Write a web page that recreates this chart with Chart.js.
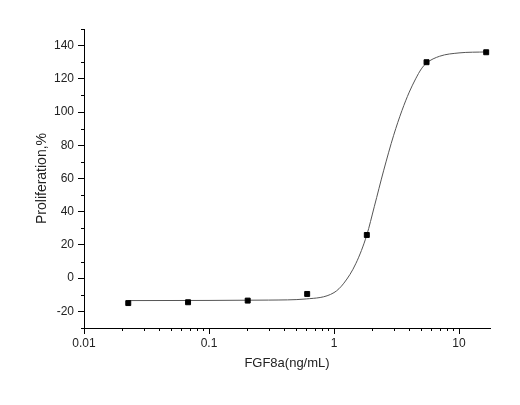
<!DOCTYPE html>
<html>
<head>
<meta charset="utf-8">
<script src="https://cdn.jsdelivr.net/npm/chart.js@4"></script>
<style>
  html, body { margin: 0; padding: 0; background: #fff; }
  #wrap { width: 520px; height: 405px; }
</style>
</head>
<body>
<div id="wrap"><canvas id="chart" width="520" height="405"></canvas></div>
<script>
// measured points, FGF8a (ng/mL) vs proliferation %
const doses = [0.0226, 0.068, 0.204, 0.61, 1.83, 5.5, 16.5];
const proliferation = [-15, -14.5, -13.5, -9.5, 26, 130, 136];

// fitted curve
const curveX = [0.0226, 0.1, 0.3, 0.6, 1, 1.2, 1.5, 1.83, 2.1, 2.5, 3, 3.5, 4, 4.5, 5, 5.5, 7, 10, 16.5];
const curveY = [-13.5, -13.4, -13.2, -12.5, -8.7, -3, 9, 26, 43, 65, 86, 101, 112, 120, 126, 129.5, 133.6, 135.6, 136.2];

const yMajor = [-20, 0, 20, 40, 60, 80, 100, 120, 140];
const xMajor = [0.01, 0.1, 1, 10];

const font = "'Liberation Sans', Arial, sans-serif";

// short minor ticks drawn outside the axes
const minorTicks = {
  id: "minorTicks",
  afterDraw(chart) {
    const { ctx, scales: { x, y } } = chart;
    ctx.save();
    ctx.strokeStyle = "#000";
    ctx.lineWidth = 1;
    ctx.beginPath();
    for (let v = -30; v <= 150; v += 10) {
      if (yMajor.includes(v)) continue;
      const py = Math.round(y.getPixelForValue(v)) + 0.5;
      ctx.moveTo(x.left, py);
      ctx.lineTo(x.left - 3, py);
    }
    for (let d = 0.01; d < 20; d *= 10) {
      for (let k = 2; k <= 9; k += 1) {
        const v = d * k;
        if (v > x.max) break;
        const px = Math.round(x.getPixelForValue(v)) + 0.5;
        ctx.moveTo(px, y.bottom);
        ctx.lineTo(px, y.bottom + 3);
      }
    }
    ctx.stroke();
    ctx.restore();
  }
};

new Chart(document.getElementById("chart"), {
  type: "scatter",
  data: {
    datasets: [
      {
        data: doses.map((d, i) => ({ x: d, y: proliferation[i] })),
        pointStyle: "rect",
        pointRadius: 3.5,
        backgroundColor: "#000",
        borderColor: "#000",
        showLine: false
      },
      {
        data: curveX.map((d, i) => ({ x: d, y: curveY[i] })),
        showLine: true,
        pointRadius: 0,
        borderColor: "#555",
        borderWidth: 1,
        cubicInterpolationMode: "monotone"
      }
    ]
  },
  options: {
    responsive: false,
    animation: false,
    layout: { padding: { top: 29, right: 30, left: 30, bottom: 30 } },
    plugins: { legend: { display: false }, tooltip: { enabled: false } },
    scales: {
      x: {
        type: "logarithmic",
        min: 0.01,
        max: 17.7,
        afterBuildTicks: (s) => { s.ticks = xMajor.map((v) => ({ value: v })); },
        afterFit: (s) => { s.height = 47; },
        ticks: {
          color: "#222",
          font: { family: font, size: 12 },
          padding: 2,
          maxRotation: 0,
          callback: (v) => String(v)
        },
        grid: { drawOnChartArea: false, tickLength: 6, color: "#000" },
        border: { color: "#000", width: 1 },
        title: {
          display: true,
          text: "FGF8a(ng/mL)",
          color: "#222",
          font: { family: font, size: 13 },
          padding: { top: 6 }
        }
      },
      y: {
        min: -30,
        max: 150,
        afterBuildTicks: (s) => { s.ticks = yMajor.map((v) => ({ value: v })); },
        afterFit: (s) => { s.width = 54; },
        ticks: {
          color: "#222",
          font: { family: font, size: 12 },
          padding: 4
        },
        grid: { drawOnChartArea: false, tickLength: 6, color: "#000" },
        border: { color: "#000", width: 1 },
        title: {
          display: true,
          text: "Proliferation,%",
          color: "#222",
          font: { family: font, size: 14 },
          padding: { bottom: 2 }
        }
      }
    }
  },
  plugins: [minorTicks]
});
</script>
</body>
</html>
